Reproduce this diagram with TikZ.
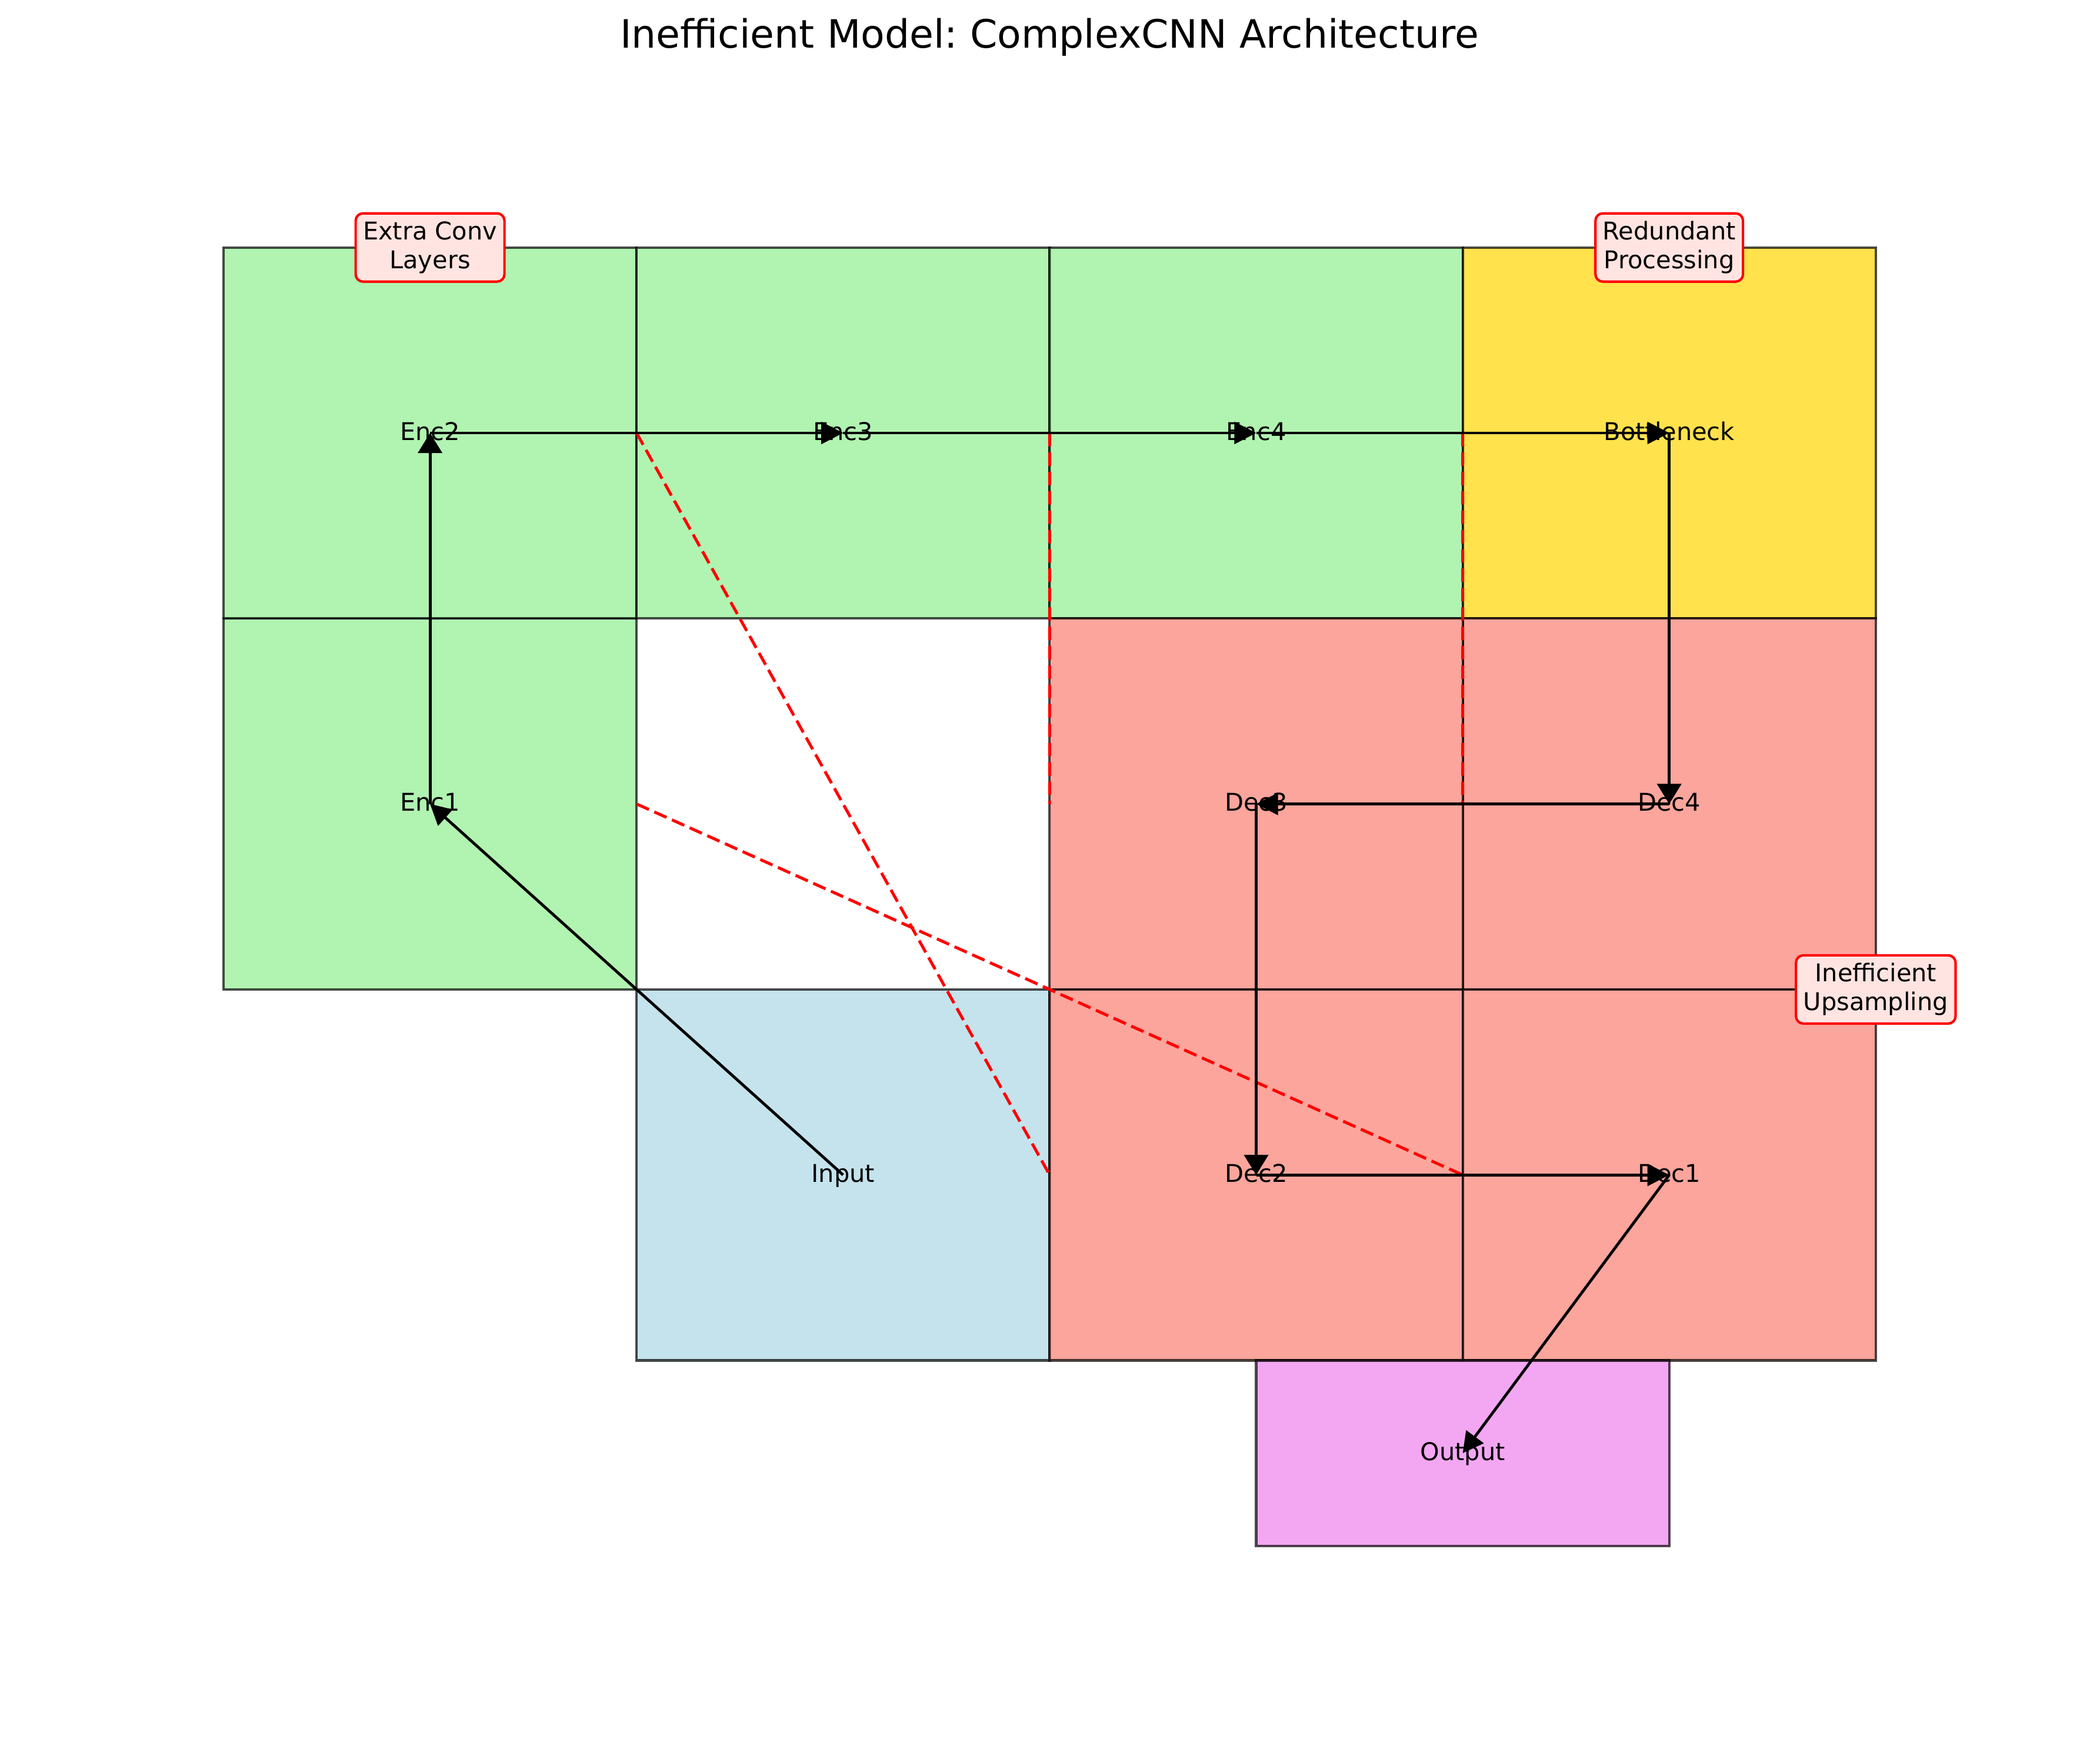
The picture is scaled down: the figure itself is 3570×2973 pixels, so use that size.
\documentclass[tikz,border=0pt]{standalone}
\usepackage{fontspec}
\setmainfont{DejaVu Sans}
\usetikzlibrary{arrows.meta}
\definecolor{cgreen}{RGB}{144,238,144}
\definecolor{cgold}{RGB}{255,215,0}
\definecolor{csalmon}{RGB}{250,128,114}
\definecolor{cblue}{RGB}{173,216,230}
\definecolor{cviolet}{RGB}{238,130,238}
\definecolor{cnote}{RGB}{255,228,225}
\frenchspacing
\begin{document}
\begin{tikzpicture}[x=0.24bp, y=-0.24bp,
  blockbox/.style={draw=black, draw opacity=0.7, fill opacity=0.7, text opacity=1,
    line width=1bp, inner sep=0pt, outer sep=0pt,
    minimum width=168.53bp, minimum height=151.34bp,
    font=\fontsize{10}{12}\selectfont, text height=0.76em, text depth=0.18em},
  flowv/.style={line width=1.15bp, -{Triangle[length=8.2bp, width=9.8bp]}},
  flowh/.style={line width=1.15bp, -{Triangle[length=8.9bp, width=8.9bp]}},
  flowd/.style={line width=1.15bp, -{Triangle[length=8.4bp, width=8.7bp]}},
  skipline/.style={red, line width=1.2bp, dash pattern=on 5.5bp off 2.4bp},
  note/.style={draw=red, fill=cnote, line width=1bp, rounded corners=3bp,
    inner xsep=3bp, inner ysep=3bp, minimum height=27.84bp, align=center,
    font=\fontsize{10}{11.76}\selectfont},
  titlefont/.style={font=\fontsize{16}{19}\selectfont, anchor=base, inner sep=0pt}
]
\fill[white] (0,0) rectangle (3570,2973);
\useasboundingbox (0,0) rectangle (3570,2973);

% blocks
\node[blockbox, fill=cblue] (input) at (1433.3,1997.2) {Input};
\node[blockbox, fill=cgreen] (enc1) at (731.1,1366.6) {Enc1};
\node[blockbox, fill=cgreen] (enc2) at (731.1,736) {Enc2};
\node[blockbox, fill=cgreen] (enc3) at (1433.3,736) {Enc3};
\node[blockbox, fill=cgreen] (enc4) at (2135.5,736) {Enc4};
\node[blockbox, fill=cgold] (bott) at (2837.7,736) {Bottleneck};
\node[blockbox, fill=csalmon] (dec4) at (2837.7,1366.6) {Dec4};
\node[blockbox, fill=csalmon] (dec3) at (2135.5,1366.6) {Dec3};
\node[blockbox, fill=csalmon] (dec2) at (2135.5,1997.2) {Dec2};
\node[blockbox, fill=csalmon] (dec1) at (2837.7,1997.2) {Dec1};
\node[blockbox, fill=cviolet, minimum height=75.67bp] (output) at (2486.6,2470.2) {Output};

% skip connections
\draw[skipline] (enc1.east) -- (dec1.west);
\draw[skipline] (enc2.east) -- (dec2.west);
\draw[skipline] (enc3.east) -- (dec3.west);
\draw[skipline] (enc4.east) -- (dec4.west);

% main flow
\draw[flowd] (input.center) -- (enc1.center);
\draw[flowv] (enc1.center) -- (enc2.center);
\draw[flowh] (enc2.center) -- (enc3.center);
\draw[flowh] (enc3.center) -- (enc4.center);
\draw[flowh] (enc4.center) -- (bott.center);
\draw[flowv] (bott.center) -- (dec4.center);
\draw[flowh] (dec4.center) -- (dec3.center);
\draw[flowv] (dec3.center) -- (dec2.center);
\draw[flowh] (dec2.center) -- (dec1.center);
\draw[flowd] (dec1.center) -- (output.center);

% annotations
\node[note] (noteA) at (731.1,420.7) {Extra Conv\\Layers};
\node[note] (noteB) at (2837.7,420.7) {Redundant\\Processing};
\node[note] (noteC) at (3188.8,1681.9) {Inefficient\\Upsampling};

% title
\node[titlefont] (title) at (1784,82) {Inefficient Model: ComplexCNN Architecture};
\end{tikzpicture}
\end{document}
